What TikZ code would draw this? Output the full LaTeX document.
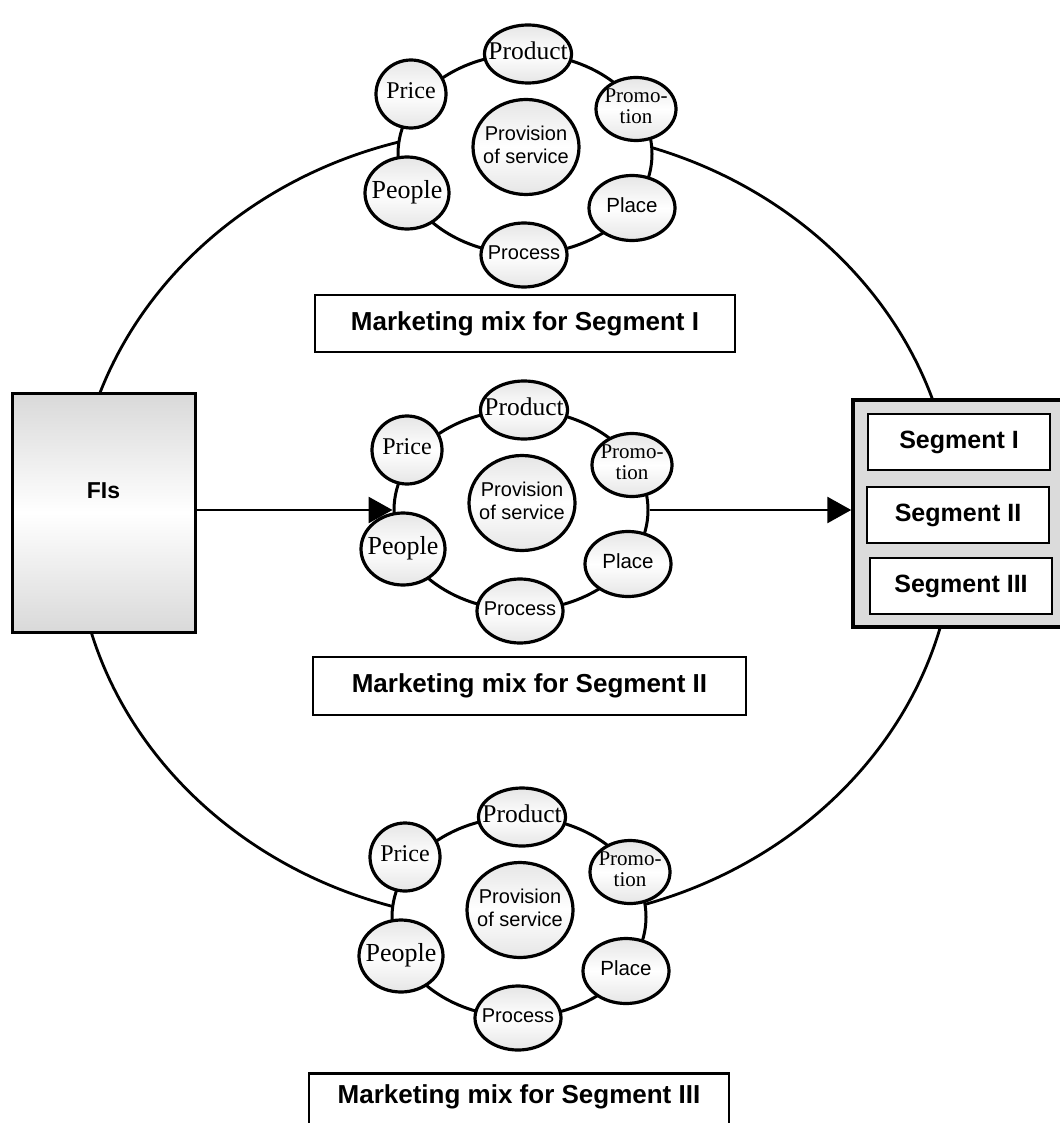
\documentclass[tikz,border=0pt]{standalone}
\usepackage{fontspec}
\setmainfont{Liberation Sans}
\newfontfamily\mixserif{Liberation Serif}
\usetikzlibrary{shapes.geometric,arrows.meta}

\tikzset{
  mixball/.style={ellipse, draw, line width=3.2pt, inner sep=0pt,
    top color=gray!20, bottom color=gray!20, middle color=white},
  mixring/.style={ellipse, draw, line width=3pt, fill=white,
    minimum width=254pt, minimum height=200pt},
  mixlabel/.style={draw, line width=2.6pt, fill=white, minimum width=420pt,
    minimum height=57pt, font=\bfseries\fontsize{26}{28}\selectfont},
  segbox/.style={draw, line width=2pt, fill=white, minimum width=182pt,
    minimum height=56pt, font=\bfseries\fontsize{25}{27}\selectfont},
  flow/.style={line width=2.8pt, -{Triangle[length=24pt,width=26pt]}},
  serifball/.style={font=\mixserif\fontsize{#1}{#1}\selectfont},
  sansball/.style={font=\fontsize{#1}{23}\selectfont},
}

\newcommand{\balltext}[1]{\makebox[0pt]{\begin{tabular}{@{}c@{}}#1\end{tabular}}}

% one ring of the 7 Ps, #1 = name prefix, #2 = centre
\newcommand{\mixcircle}[2]{%
  \begin{scope}[shift={(#2)}]
    \node[mixring] (#1ring) at (3,2) {};
    \node[mixball, serifball=25.5, minimum width=87pt, minimum height=58pt] (#1prod) at (6,-98) {\balltext{Product}};
    \node[mixball, serifball=24, minimum width=70pt, minimum height=68pt] (#1price) at (-111,-58) {\balltext{Price}};
    \node[mixball, serifball=21, minimum width=80pt, minimum height=63pt] (#1promo) at (114,-43) {\balltext{Promo-\\tion}};
    \node[mixball, sansball=20, minimum width=106pt, minimum height=95pt] (#1prov) at (4,-5) {\balltext{Provision\\of service}};
    \node[mixball, serifball=26, minimum width=84pt, minimum height=72pt] (#1people) at (-115,41) {\balltext{People}};
    \node[mixball, sansball=20.5, minimum width=86pt, minimum height=65pt] (#1place) at (110,56) {\balltext{Place}};
    \node[mixball, sansball=20, minimum width=86pt, minimum height=64pt] (#1proc) at (2,103) {\balltext{Process}};
  \end{scope}}

\begin{document}
\begin{tikzpicture}[x=1pt, y=-1pt]
  \useasboundingbox (0,0) rectangle (1059,1123);

  % outer loop
  \draw[line width=2.8pt] (515,525) ellipse [x radius=440, y radius=397];

  \node[draw, line width=3pt, minimum width=183pt, minimum height=239pt,
    top color=gray!30, bottom color=gray!30, middle color=white,
    label={[font=\bfseries\fontsize{23}{25}\selectfont, yshift=22pt]center:FIs}] (fis) at (103.5,512.5) {};

  \node[draw, line width=3.5pt, fill=gray!28, minimum width=211pt, minimum height=227pt] (segs) at (958.5,513.5) {};
  \node[segbox] (seg1) at (959,442) {Segment I};
  \node[segbox] (seg2) at (958,515) {Segment II};
  \node[segbox] (seg3) at (961,586) {Segment III};

  \mixcircle{top}{522,152}
  \mixcircle{mid}{518,508}
  \mixcircle{low}{516,915}

  \node[mixlabel] (toplbl) at (525,323.5) {Marketing mix for Segment I};
  \node[mixlabel, minimum width=433pt, minimum height=58pt] (midlbl) at (529.5,686) {Marketing mix for Segment II};
  \node[mixlabel, anchor=north, inner ysep=4pt, text height=26pt, text depth=28pt] (lowlbl) at (519,1072) {Marketing mix for Segment III};

  \draw[flow] (fis.east |- midring.west) -- (midring.west);
  \draw[flow] (midring.east) -- (segs.west |- midring.east);
\end{tikzpicture}
\end{document}
